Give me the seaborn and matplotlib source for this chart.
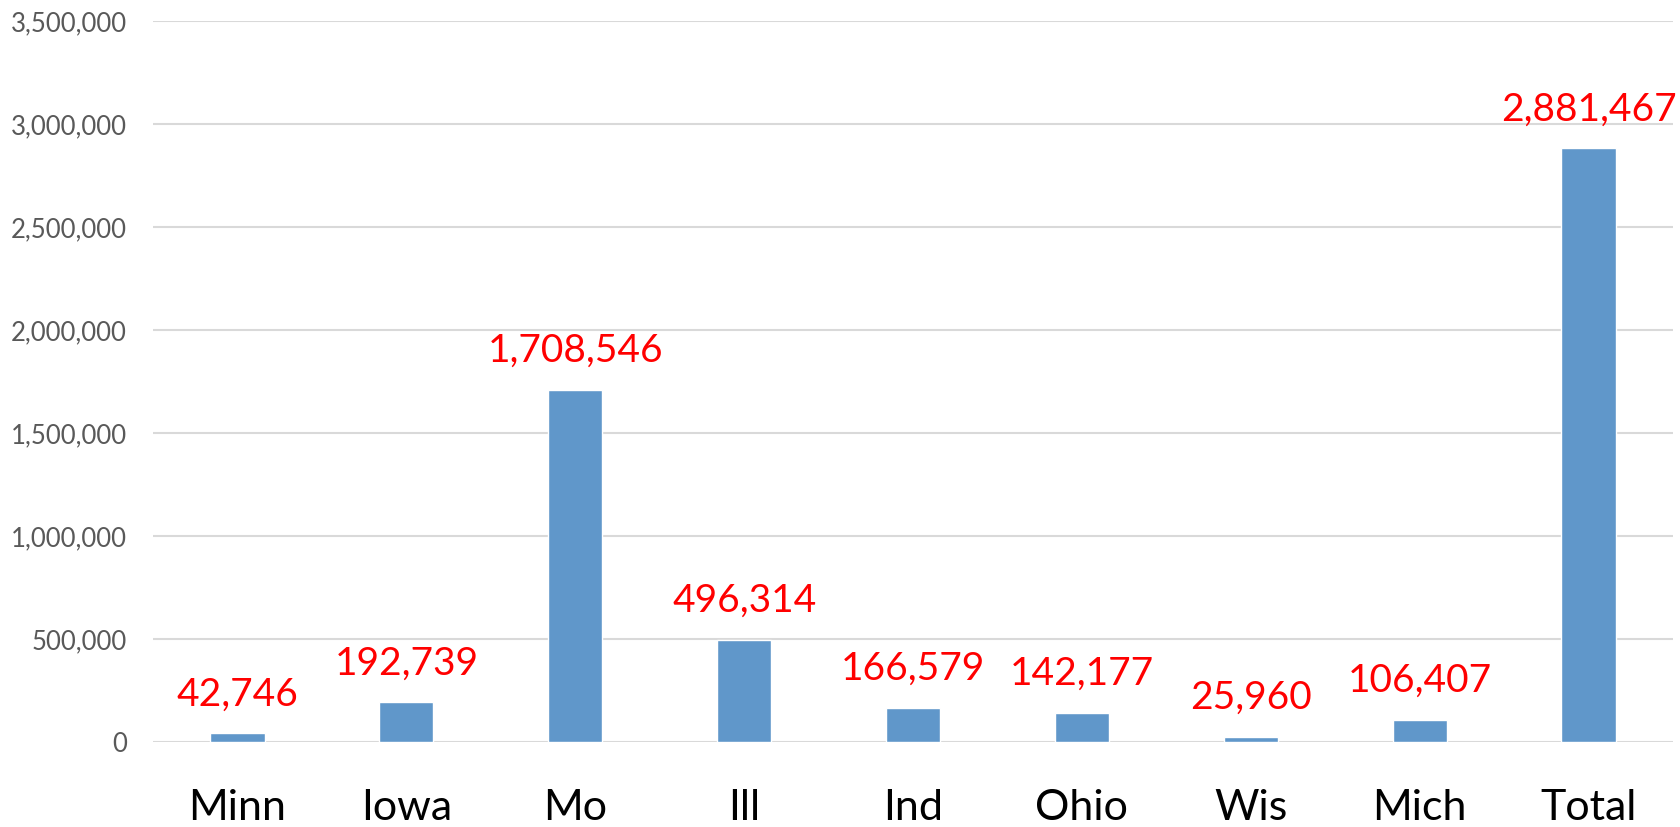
import matplotlib
matplotlib.use('Agg')
import pandas as pd
import seaborn as sns
import matplotlib.pyplot as plt
from matplotlib.ticker import FuncFormatter

states = ['Minn', 'Iowa', 'Mo', 'Ill', 'Ind', 'Ohio', 'Wis', 'Mich', 'Total']
counts = [42746, 192739, 1708546, 496314, 166579, 142177, 25960, 106407, 2881467]

df = pd.DataFrame({'state': states, 'count': counts})

sns.set_style('white')
plt.rcParams['font.family'] = ['Lato', 'DejaVu Sans']

fig = plt.figure(figsize=(16.8, 8.27), dpi=100)
ax = fig.add_axes([0.0911, 0.1028, 0.9047, 0.8718])

sns.barplot(data=df, x='state', y='count', color='#6097CA', width=0.32,
            saturation=1, ax=ax, zorder=3)

ax.set_ylim(0, 3500000)
ax.set_yticks(range(0, 3500001, 500000))
ax.yaxis.set_major_formatter(FuncFormatter(lambda v, p: f'{int(v):,}'))
ax.grid(axis='y', color='#D9D9D9', linewidth=1.5, zorder=0)
ax.set_axisbelow(True)
for s in ax.spines.values():
    s.set_visible(False)

ax.tick_params(axis='y', length=0, pad=19, labelsize=18.5, labelcolor='#595959')
ax.tick_params(axis='x', length=0, pad=34, labelsize=31, labelcolor='black')
ax.set_xlabel('')
ax.set_ylabel('')

ax.bar_label(ax.containers[0], labels=[f'{v:,}' for v in counts],
             padding=15, fontsize=28, color='red')

fig.savefig('out.png', dpi=100)
